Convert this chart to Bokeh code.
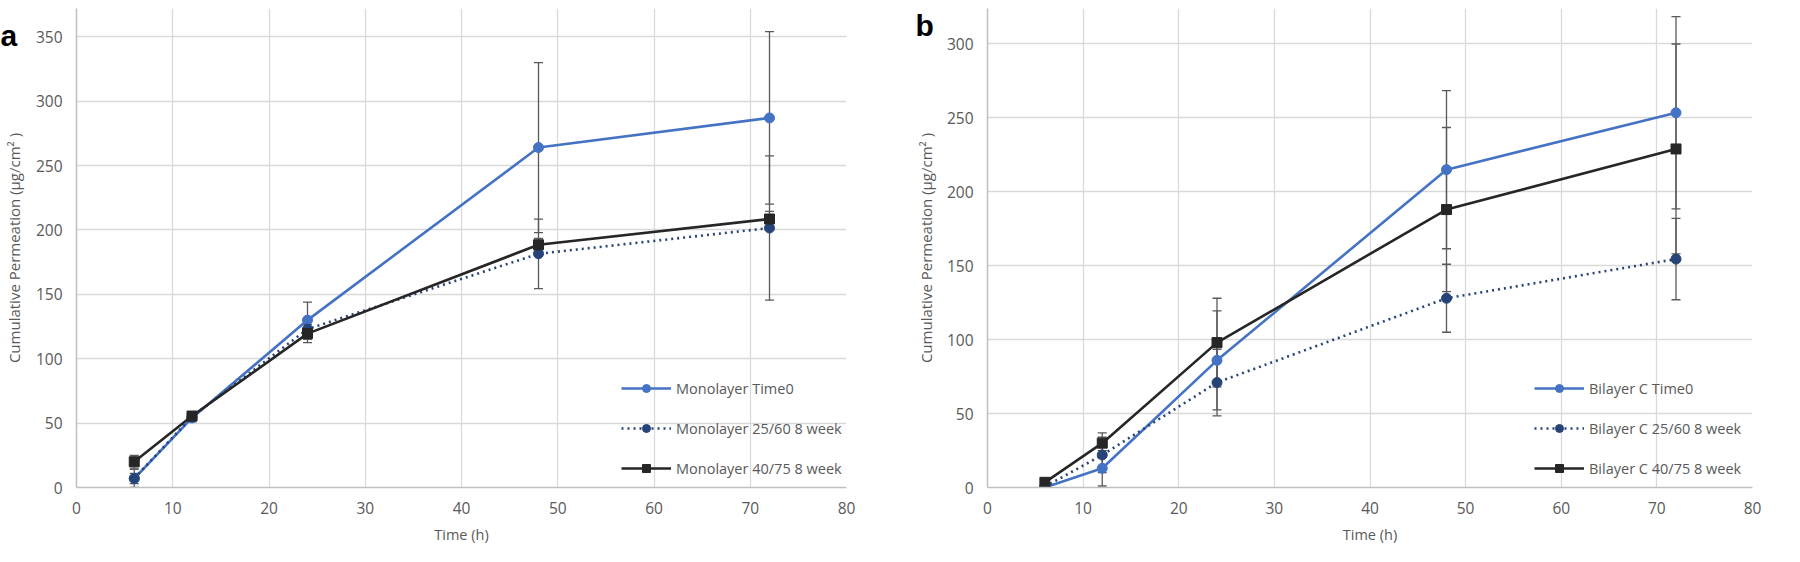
import numpy as np
from bokeh.plotting import figure
from bokeh.models import Whisker, TeeHead, ColumnDataSource, Label, Legend
from bokeh.layouts import row
from bokeh.embed import file_html
from bokeh.resources import INLINE

# ---------------- data ----------------
time_a = [6, 12, 24, 48, 72]
mono_t0 = [7, 54, 130, 264, 287]
mono_t0_err = [7, 3, 14, 66, 67]
mono_2560 = [7, 55, 123, 181.5, 201.5]
mono_2560_err = [4, 3, 8, 27, 56]
mono_4075 = [20, 55.5, 119.5, 188.5, 208.5]
mono_4075_err = [5, 3, 7, 5, 6]

time_b = [6, 12, 24, 48, 72]
bi_t0 = [0, 13, 86, 215, 253.5]
bi_t0_err = [0.5, 12, 33.5, 53.5, 65]
bi_2560 = [0.5, 22, 71, 128, 154.5]
bi_2560_err = [0.5, 12, 22.5, 23, 27.5]
bi_4075 = [3.5, 30, 98, 188, 229]
bi_4075_err = [1, 7, 30, 55.5, 71]

labels_a = ["Monolayer Time0", "Monolayer 25/60 8 week", "Monolayer 40/75 8 week"]
labels_b = ["Bilayer C Time0", "Bilayer C 25/60 8 week", "Bilayer C 40/75 8 week"]

x_ticks = [0, 10, 20, 30, 40, 50, 60, 70, 80]
y_ticks_a = [0, 50, 100, 150, 200, 250, 300, 350]
y_ticks_b = [0, 50, 100, 150, 200, 250, 300]

# ---------------- style ----------------
BLUE = "#4472C4"
DARK = "#264478"
BLACK = "#262626"
ERR = "#595959"
TXT = "#595959"
GRID = "#D9D9D9"
FONT = "Open Sans"
YTITLE = "Cumulative Permeation (\u03bcg/cm\u00b2 )"


def make_panel(width, height, mbl, mbr, mbt, mbb, ymax, yticks, t, series, errs, labels,
               leg_loc, letter, letter_xy, ytitle_standoff):
    p = figure(width=width, height=height, x_range=(0, 80), y_range=(0, ymax),
               output_backend="svg", toolbar_location=None,
               min_border_left=mbl, min_border_right=mbr,
               min_border_top=mbt, min_border_bottom=mbb)
    p.outline_line_color = None
    p.background_fill_color = "white"
    p.border_fill_color = "white"

    p.xaxis.ticker = x_ticks
    p.yaxis.ticker = yticks
    for ax in (p.xaxis, p.yaxis):
        ax.major_tick_out = 0
        ax.major_tick_in = 0
        ax.minor_tick_out = 0
        ax.minor_tick_in = 0
        ax.axis_line_color = "#BFBFBF"
        ax.axis_line_width = 1.5
        ax.major_label_text_font = FONT
        ax.major_label_text_font_size = "15.5px"
        ax.major_label_text_color = TXT
        ax.axis_label_text_font = FONT
        ax.axis_label_text_color = TXT
        ax.axis_label_text_font_style = "normal"
    p.xaxis.axis_label = "Time (h)"
    p.yaxis.axis_label = YTITLE
    p.xaxis.axis_label_text_font_size = "14.5px"
    p.yaxis.axis_label_text_font_size = "15px"
    p.xaxis.major_label_standoff = 14
    p.xaxis.axis_label_standoff = 8
    p.yaxis.major_label_standoff = 14
    p.yaxis.axis_label_standoff = ytitle_standoff

    p.xgrid.grid_line_color = GRID
    p.ygrid.grid_line_color = GRID
    p.xgrid.grid_line_width = 1.3
    p.ygrid.grid_line_width = 1.3

    colors = [BLUE, DARK, BLACK]
    dashes = ["solid", "2 4", "solid"]
    markers = ["circle", "circle", "square"]

    # error bars
    for ys, es in zip(series, errs):
        ya = np.array(ys, dtype=float)
        ea = np.array(es, dtype=float)
        src = ColumnDataSource(dict(x=t, upper=ya + ea, lower=ya - ea))
        w = Whisker(base="x", upper="upper", lower="lower", source=src, dimension="height",
                    line_color=ERR, line_width=1.3, level="underlay",
                    upper_head=TeeHead(size=9, line_color=ERR, line_width=1.3),
                    lower_head=TeeHead(size=9, line_color=ERR, line_width=1.3))
        p.add_layout(w)

    items = []
    for ys, c, d, m, lab in zip(series, colors, dashes, markers, labels):
        r1 = p.line(t, ys, line_color=c, line_width=2.6, line_dash=d)
        r2 = p.scatter(t, ys, marker=m, size=10, fill_color=c, line_color=c)
        items.append((lab, [r1, r2]))

    leg = Legend(items=items, location=leg_loc, orientation="vertical")
    leg.glyph_width = 50
    leg.glyph_height = 20
    leg.label_height = 20
    leg.label_standoff = 5
    leg.spacing = 20
    leg.padding = 0
    leg.margin = 0
    leg.border_line_color = None
    leg.background_fill_alpha = 0
    leg.label_text_font = FONT
    leg.label_text_font_size = "14.5px"
    leg.label_text_color = TXT
    p.add_layout(leg, "center")

    lab = Label(x=letter_xy[0], y=letter_xy[1], x_units="screen", y_units="screen",
                text=letter, text_font="Liberation Sans",
                text_font_style="bold", text_font_size="30px", text_color="black",
                text_baseline="middle", text_align="left")
    p.add_layout(lab, "right")
    return p


pa = make_panel(882, 546, 69, 36, 0, 57, 372, y_ticks_a, time_a,
                [mono_t0, mono_2560, mono_4075],
                [mono_t0_err, mono_2560_err, mono_4075_err],
                labels_a, (545, 9), "a", (-846, 452), 9)
pb = make_panel(902, 546, 105, 32, 8, 56, 324, y_ticks_b, time_b,
                [bi_t0, bi_2560, bi_4075],
                [bi_t0_err, bi_2560_err, bi_4075_err],
                labels_b, (547, 9), "b", (-837, 462), 8)

layout = row(pa, pb)
open("out.html", "w").write(file_html(layout, INLINE))
